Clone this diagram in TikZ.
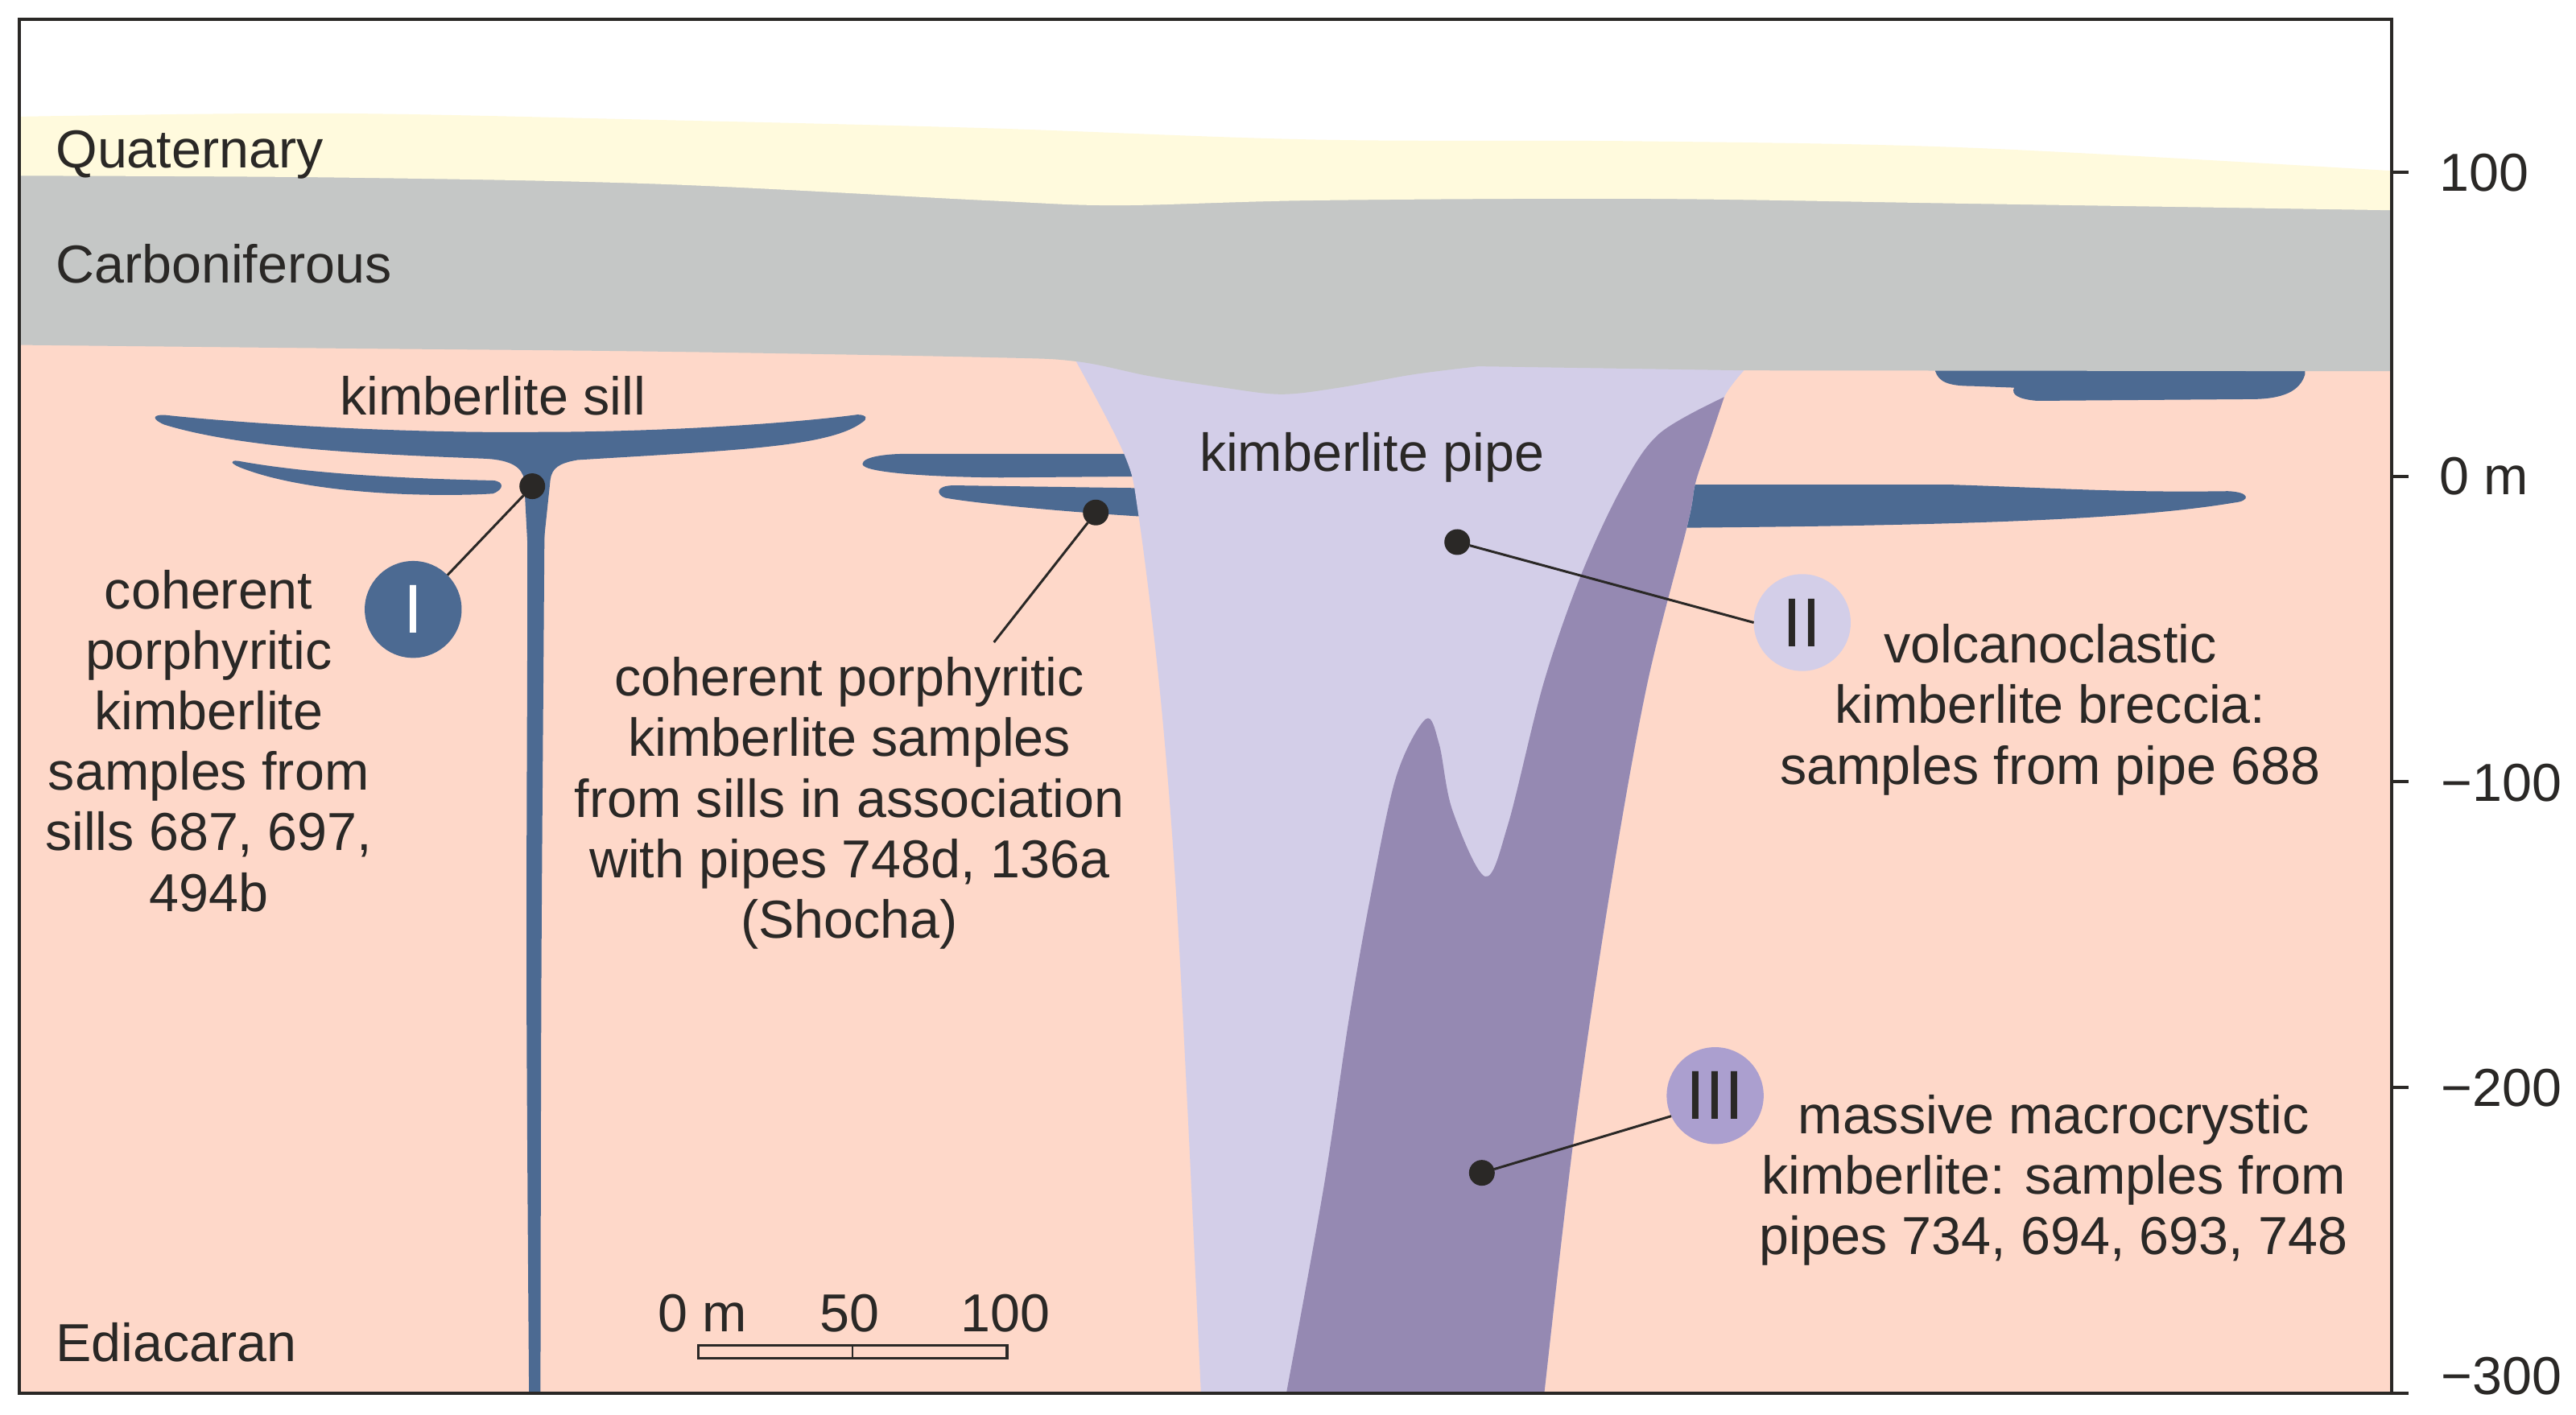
\documentclass[tikz,border=0pt]{standalone}
\usepackage{fontspec}
\setmainfont{Liberation Sans}
\definecolor{ink}{HTML}{2A2826}
\definecolor{edi}{HTML}{FED8C9}
\definecolor{carb}{HTML}{C5C7C6}
\definecolor{quat}{HTML}{FFFADD}
\definecolor{pipel}{HTML}{D3CEE8}
\definecolor{piped}{HTML}{9589B2}
\definecolor{sillc}{HTML}{4C6A92}
\definecolor{badge3}{HTML}{AB9FCF}
\tikzset{
  txt/.style={inner sep=0pt,outer sep=0pt,text=ink,font=\fontsize{33.2}{37.6}\selectfont,align=center},
  dotn/.style={circle,fill=ink,minimum size=16pt,inner sep=0pt,outer sep=0pt},
  badge/.style={circle,minimum size=60.2pt,inner sep=0pt,outer sep=0pt,font=\fontsize{43}{43}\selectfont,text=ink},
  conn/.style={draw=ink,line width=1.5pt},
  tick/.style={draw=ink,line width=2pt},
  geo/.style={smooth,tension=0.55}
}
\begin{document}
\begin{tikzpicture}[x=1.0204pt,y=-1.0204pt]
\useasboundingbox (0,0) rectangle (1568,861.4);
\fill[white] (0,0) rectangle (1568,861.4);
% basement
\fill[edi] (12,112) rectangle (1456,848);
% sills: crown of the feeder
\fill[sillc] (100,252.6) .. controls (130,256) and (230,264) .. (328,263)
  .. controls (400,263) and (480,258) .. (522,252.4)
  .. controls (528,252.6) and (528,255) .. (525,257)
  .. controls (505,272) and (450,274) .. (351.6,280)
  .. controls (340,282) and (336,285) .. (335,292)
  -- (331,330) -- (321,330) -- (319,292)
  .. controls (318,285) and (312,280) .. (295,279.2)
  .. controls (240,277) and (150,274) .. (100,258.5)
  .. controls (93,255.5) and (92,252.5) .. (100,252.6) -- cycle;
% sills: feeder
\fill[sillc] plot[geo] coordinates {(331.5,317) (331,382) (329.5,600) (329,848)}
  -- plot[geo] coordinates {(322,848) (320.5,600) (321,382) (321,317)} -- cycle;
\fill[sillc] (145,280.6) .. controls (180,287) and (230,291) .. (300,292.5)
  .. controls (307,293) and (307,298) .. (300,300.5)
  .. controls (270,302.5) and (190,302) .. (146,284.5)
  .. controls (140,282) and (140,280) .. (145,280.6) -- cycle;
\fill[sillc] (551,276.3) -- (700,276.3) -- (700,290) -- (609.5,290.7)
  .. controls (570,290.5) and (525,288) .. (525,282.5)
  .. controls (525,278) and (540,276.3) .. (551,276.3) -- cycle;
\fill[sillc] (581,295.5) -- (705,297.3) -- (705,315)
  .. controls (650,312) and (590,306) .. (575,303)
  .. controls (570,301) and (569,295.5) .. (581,295.5) -- cycle;
\fill[sillc] (1010,295) -- (1186,295)
  .. controls (1250,297) and (1290,300) .. (1356,299)
  .. controls (1370,299.5) and (1370,305) .. (1360,306)
  .. controls (1300,316) and (1200,320) .. (1010,321.4) -- cycle;
\fill[sillc] (1178,222) -- (1403,222) -- (1403,228) .. controls (1400,238) and (1390,243) .. (1370,243) -- (1240,244) .. controls (1228,243) and (1224,240) .. (1226,236) -- (1200,235) .. controls (1185,235) and (1180,232) .. (1178,226) -- cycle;
% pipe
\fill[pipel] (640,210) -- (1062,210)
  -- plot[geo] coordinates {(1062,225) (1049.5,241.7) (1040,270) (1032,294) (1027,320) (1002.6,416.5) (980.6,538.6) (958.8,686) (940,848)}
  -- plot[geo] coordinates {(731,848) (722.7,672) (715,530) (705.6,416.5) (693,313.6) (684.5,277) (655,220)} -- cycle;
\fill[piped] plot[geo] coordinates {(1049.5,241.7) (1040,270) (1032,294) (1027,320) (1002.6,416.5) (980.6,538.6) (958.8,686) (940,848)}
  -- plot[geo] coordinates {(783,848) (805.7,723) (821,621) (834,547) (849.8,473) (867.8,437.8) (876,453) (884,493) (904,533.6) (918,501.6) (939.4,416.5) (962,351) (987,297) (1010,264) (1049.5,241.7)} -- cycle;
% strata
\fill[carb] (12,106) -- (1456,110) -- (1456,226) -- (1062,225.5) -- (900,223)
  -- plot[geo] coordinates {(900,223) (860,228) (815,236) (780,240) (745,236) (700,229) (655,220) (600,217.5) (400,214) (200,212) (12,210)} -- cycle;
\fill[quat] plot[geo] coordinates {(12,71) (200,69) (400,73) (600,78) (800,85) (1000,86) (1200,90) (1456,104)}
  -- plot[geo] coordinates {(1456,128) (1200,124) (1000,121) (800,122) (680,125) (600,122) (400,112) (200,108) (12,107)} -- cycle;
% frame and axis
\draw[draw=ink,line width=2pt] (12,12) rectangle (1456,848);
\coordinate (t100) at (1456,105);
\coordinate (e100) at (1466,105);
\coordinate (t0) at (1456,290);
\coordinate (e0) at (1466,290);
\coordinate (tm100) at (1456,476);
\coordinate (em100) at (1466,476);
\coordinate (tm200) at (1456,662);
\coordinate (em200) at (1466,662);
\coordinate (tm300) at (1456,848);
\coordinate (em300) at (1466,848);
\draw[tick] (t100)--(e100);
\draw[tick] (t0)--(e0);
\draw[tick] (tm100)--(em100);
\draw[tick] (tm200)--(em200);
\draw[tick] (tm300)--(em300);
\node[txt,anchor=west] (l100) at (1485,105) {100};
\node[txt,anchor=west] (l0) at (1485,290) {0 m};
\node[txt,anchor=west] (lm100) at (1486,476.5) {−100};
\node[txt,anchor=west] (lm200) at (1486,662.5) {−200};
\node[txt,anchor=west] (lm300) at (1486,837.5) {−300};
% labels
\node[txt,anchor=base west] (quatlab) at (34,102) {Quaternary};
\node[txt,anchor=base west] (carblab) at (34,172) {Carboniferous};
\node[txt,anchor=base west] (edilab) at (34,829) {Ediacaran};
\node[txt,anchor=base] (silllab) at (300,252.5) {kimberlite sill};
\node[txt,anchor=base] (pipelab) at (835,287) {kimberlite pipe};
\node[txt] (tI) at (127,451) {coherent\\porphyritic\\kimberlite\\samples from\\sills 687, 697,\\494b};
\node[txt] (tS) at (517,489) {coherent porphyritic\\kimberlite samples\\from sills in association\\with pipes 748d, 136a\\(Shocha)};
\node[txt] (tII) at (1248,432) {volcanoclastic\\kimberlite breccia:\\samples from pipe 688};
\node[txt] (tIII) at (1250,718.5) {massive macrocrystic\\kimberlite: samples from\\pipes 734, 694, 693, 748};
% badges and connectors
\node[badge,fill=sillc,text=white] (b1) at (251.5,371) {I};
\node[badge,fill=pipel] (b2) at (1097,379) {II};
\node[badge,fill=badge3] (b3) at (1044,667) {III};
\node[dotn] (d1) at (324,296) {};
\node[dotn] (d2) at (667,312) {};
\node[dotn] (d3) at (887,330) {};
\node[dotn] (d4) at (902,714) {};
\coordinate (c2) at (605,391);
\draw[conn] (d1)--(b1.45);
\draw[conn] (d2)--(c2);
\draw[conn] (d3)--(b2.west);
\draw[conn] (d4)--(b3.205);
% scale
\node[txt] (s0) at (427.5,799.5) {0 m};
\node[txt] (s50) at (517,799.5) {50};
\node[txt] (s100) at (612,799.5) {100};
\coordinate (sa) at (425,819);
\coordinate (sb) at (613,827);
\coordinate (sm1) at (519,819);
\coordinate (sm2) at (519,827);
\draw[draw=ink,line width=1.6pt] (sa) rectangle (sb);
\draw[draw=ink,line width=1.2pt] (sm1)--(sm2);
\end{tikzpicture}
\end{document}
